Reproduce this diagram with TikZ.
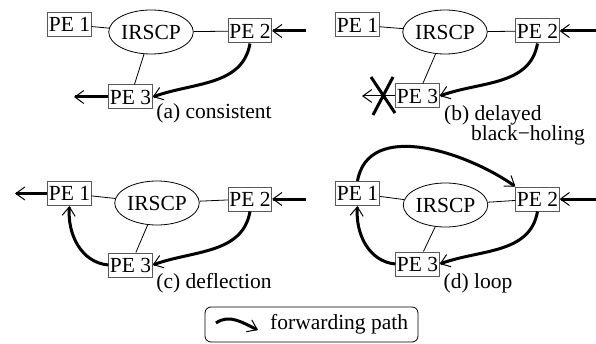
\documentclass[tikz,border=0pt]{standalone}
\usepackage{fontspec}
\setmainfont{Liberation Serif}
\usetikzlibrary{
    arrows.meta,
    shapes.geometric
}

\begin{document}
\begin{tikzpicture}[x=1pt, y=1pt,
    font=\fontsize{21.5pt}{20pt}\selectfont,
    pebox/.style={
        rectangle,
        draw=black!65,
        line width=1pt,
        inner sep=1pt,
        minimum width=43pt,
        minimum height=24pt
    },
    ctrl/.style={
        ellipse,
        draw=black,
        line width=0.8pt,
        inner sep=0pt,
        minimum width=84pt,
        minimum height=44pt
    },
    link/.style={line width=0.8pt, black},
    fwd/.style={line width=3pt, -{Straight Barb[length=9pt, width=13pt, line width=1pt]}},
    fwdthin/.style={line width=1pt, -{Straight Barb[length=9pt, width=13pt, line width=1pt]}},
    dropmark/.style={line width=3pt},
    caption/.style={inner sep=0pt},
    legendbox/.style={
        rectangle,
        rounded corners=6pt,
        draw=black,
        line width=0.8pt,
        minimum width=213pt,
        minimum height=35pt
    }
]
\useasboundingbox (0,0) rectangle (596,343);

% ===== (a) consistent =====
\node[pebox] (pe1a) at (69.5,318.5) {PE 1};
\node[ctrl]  (irscpa) at (151,311) {IRSCP};
\node[pebox] (pe2a) at (250,312) {PE 2};
\node[pebox] (pe3a) at (130.5,246) {PE 3};
\coordinate (ina) at (306,312);
\coordinate (outa) at (74,246);

\draw[link] (pe1a) -- (irscpa);
\draw[link] (irscpa) -- (pe2a);
\draw[link] (irscpa) -- (pe3a);
\draw[fwd] (ina) -- (pe2a.east);
\draw[fwd] (pe2a.south) to[out=-100, in=20] (pe3a.east);
\draw[fwd] (pe3a.west) -- (outa);

\node[caption] (capa) at (214,230) {(a) consistent};

% ===== (b) delayed black-holing =====
\node[pebox] (pe1b) at (357.5,318) {PE 1};
\node[ctrl]  (irscpb) at (445,311) {IRSCP};
\node[pebox] (pe2b) at (537.5,312) {PE 2};
\node[pebox] (pe3b) at (417.5,247) {PE 3};
\coordinate (inb) at (596,312);
\coordinate (outb) at (362,247);
\coordinate (cut) at (383,247);

\draw[link] (pe1b) -- (irscpb);
\draw[link] (irscpb) -- (pe2b);
\draw[link] (irscpb) -- (pe3b);
\draw[fwd] (inb) -- (pe2b.east);
\draw[fwd] (pe2b.south) to[out=-100, in=20] (pe3b.east);
\draw[fwdthin] (pe3b.west) -- (outb);
\draw[dropmark] (cut) ++(-12,19) -- ++(24,-36)
                (cut) ++(10,19) -- ++(-20,-38);

\node[caption, anchor=west, align=left] (capb) at (444,218)
    {(b) delayed\\\hspace{27pt}black−holing};

% ===== (c) deflection =====
\node[pebox] (pe1c) at (69.5,149.5) {PE 1};
\node[ctrl]  (irscpc) at (157,140) {IRSCP};
\node[pebox] (pe2c) at (250,144) {PE 2};
\node[pebox] (pe3c) at (130.5,78) {PE 3};
\coordinate (inc) at (306,144);
\coordinate (outc) at (15,149.5);

\draw[link] (pe1c) -- (irscpc);
\draw[link] (irscpc) -- (pe2c);
\draw[link] (irscpc) -- (pe3c);
\draw[fwd] (inc) -- (pe2c.east);
\draw[fwd] (pe2c.south) to[out=-100, in=20] (pe3c.east);
\draw[fwd] (pe3c.west) to[out=175, in=-95] (pe1c.south);
\draw[fwd] (pe1c.west) -- (outc);

\node[caption] (capc) at (214,60) {(c) deflection};

% ===== (d) loop =====
\node[pebox] (pe1d) at (357.5,149.5) {PE 1};
\node[ctrl]  (irscpd) at (445.5,138) {IRSCP};
\node[pebox] (pe2d) at (537.5,144) {PE 2};
\node[pebox] (pe3d) at (417.5,79) {PE 3};
\coordinate (ind) at (596,144);

\draw[link] (pe1d) -- (irscpd);
\draw[link] (irscpd) -- (pe2d);
\draw[link] (irscpd) -- (pe3d);
\draw[fwd] (ind) -- (pe2d.east);
\draw[fwd] (pe2d.south) to[out=-100, in=20] (pe3d.east);
\draw[fwd] (pe3d.west) to[out=175, in=-95] (pe1d.south);
\draw[fwd] (pe1d.north) to[out=80, in=145] (pe2d.north west);

\node[caption] (capd) at (478,60) {(d) loop};

% ===== legend =====
\node[legendbox] (legend) at (311.5,18.5) {};
\coordinate (legs) at (216,20);
\coordinate (lege) at (258,13);
\draw[fwd] (legs) to[out=35, in=155] (lege);
\node[caption, anchor=west] (legtext) at (270,19) {forwarding path};

\end{tikzpicture}
\end{document}
